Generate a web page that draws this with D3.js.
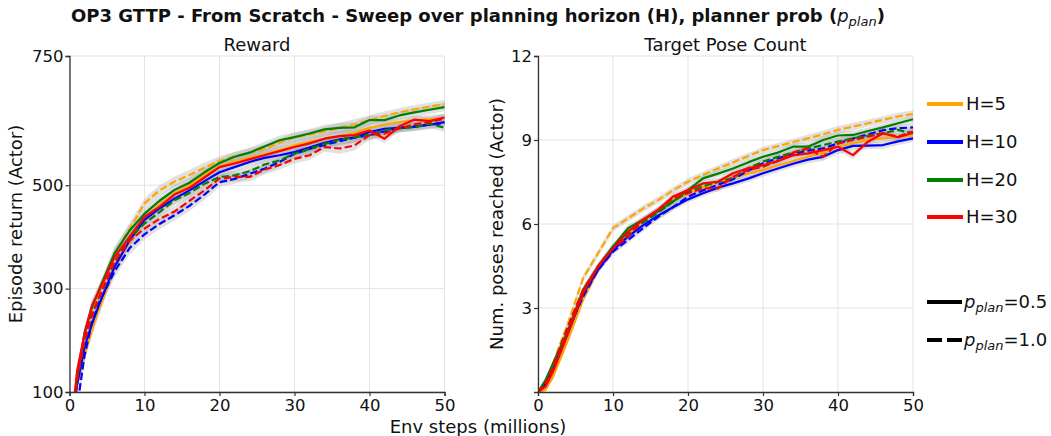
<!DOCTYPE html>
<html><head><meta charset="utf-8">
<script src="https://cdn.jsdelivr.net/npm/d3@7/dist/d3.min.js"></script>
<style>body{margin:0;background:#fff} text{font-family:"DejaVu Sans",sans-serif;fill:#111}</style>
</head><body><svg id="c" width="1051" height="436"></svg>
<script>
// ---------- DATA ----------
const steps = [0,1,2,3,4,6,8,10,12,14,16,18,20,22,24,26,28,30,32,34,36,38,40,42,44,46,48,50];
const horizons = ["H=5","H=10","H=20","H=30"];
const planProbs = ["0.5","1.0"];
const xTicks = [0,10,20,30,40,50];
const rewardTicks = [100,300,500,750];
const poseTicks = [3,6,9,12];

// Reward (Episode return)
const rewardH5p05  = [0,115,170,220,262,340,392,437,462,484,500,520,536,546,553,560,568,577,584,590,595,601,611,617,622,626,628,630];
const rewardH5p10  = [0,118,200,245,292,368,415,465,490,507,520,534,547,556,563,570,582,593,598,604,611,618,626,634,641,647,652,657];
const rewardH10p05 = [0,112,187,232,271,342,393,433,455,474,490,508,525,535,545,553,558,564,573,582,589,592,603,609,611,613,617,622];
const rewardH10p10 = [-60,70,170,235,275,333,378,405,425,442,460,482,506,512,522,532,545,561,570,578,585,592,597,604,611,614,617,620];
const rewardH20p05 = [0,125,215,264,300,368,412,445,470,491,505,525,543,555,563,575,587,593,600,608,611,612,626,626,635,641,646,651];
const rewardH20p10 = [0,125,200,252,284,351,398,426,448,471,485,503,516,519,527,540,548,561,570,580,588,593,597,606,610,613,619,611];
const rewardH30p05 = [0,140,212,268,297,361,400,439,458,482,495,515,535,542,550,558,566,574,581,590,595,597,606,590,614,627,624,631];
const rewardH30p10 = [0,125,200,248,285,351,393,416,435,449,470,490,513,516,516,530,539,551,558,574,571,577,597,600,610,618,622,629];
const rewardSpread = [0,10,12,12,12,12,12,10,10,10,10,10,9,9,9,9,9,9,9,9,10,10,9,9,8,8,8,8];

// Target pose count
const poseH5p05  = [0,0.07,0.55,1.2,1.86,3.29,4.36,5.07,5.67,6.1,6.5,6.85,7.1,7.3,7.5,7.65,7.8,7.93,8.1,8.25,8.4,8.55,8.76,8.88,9.0,9.06,9.1,9.18];
const poseH5p10  = [0,0.31,1.0,1.75,2.45,4.06,4.95,5.85,6.2,6.55,6.85,7.2,7.51,7.75,7.98,8.2,8.42,8.64,8.78,8.92,9.06,9.2,9.36,9.48,9.6,9.72,9.84,9.93];
const poseH10p05 = [0,0.3,0.8,1.45,2.1,3.5,4.36,5.07,5.55,5.95,6.3,6.6,6.88,7.1,7.3,7.45,7.62,7.81,7.98,8.15,8.3,8.4,8.64,8.79,8.8,8.82,8.95,9.06];
const poseH10p10 = [0,0.31,0.85,1.5,2.2,3.4,4.36,5.01,5.43,5.85,6.25,6.6,6.98,7.2,7.4,7.6,7.9,8.17,8.35,8.5,8.62,8.7,8.88,9.05,9.2,9.35,9.42,9.45];
const poseH20p05 = [0,0.43,1.02,1.6,2.2,3.64,4.48,5.19,5.85,6.15,6.45,6.8,7.21,7.63,7.8,7.98,8.2,8.4,8.55,8.76,8.76,9.0,9.16,9.18,9.32,9.45,9.6,9.74];
const poseH20p10 = [0,0.31,0.96,1.65,2.33,3.64,4.48,5.19,5.67,6.05,6.4,6.8,7.15,7.35,7.5,7.65,7.99,8.23,8.4,8.55,8.7,8.82,8.94,9.06,9.15,9.24,9.36,9.24];
const poseH30p05 = [0,0.19,0.73,1.4,2.1,3.52,4.48,5.13,5.73,6.15,6.5,6.98,7.21,7.45,7.51,7.81,7.99,8.1,8.25,8.45,8.52,8.64,8.76,8.46,8.94,9.24,9.1,9.26];
const poseH30p10 = [0,0.31,0.9,1.6,2.33,3.64,4.48,5.13,5.55,6.14,6.5,6.92,7.1,7.27,7.27,7.69,7.93,8.05,8.25,8.55,8.7,8.4,8.88,9.0,9.12,9.24,9.12,9.3];
const poseSpread = [0,0.05,0.1,0.12,0.12,0.12,0.12,0.12,0.12,0.12,0.12,0.12,0.12,0.12,0.12,0.12,0.12,0.12,0.12,0.12,0.14,0.14,0.14,0.14,0.13,0.13,0.13,0.13];

// ---------- STYLE ----------
const colorOf = {"H=5":"#ffa500","H=10":"#0000ff","H=20":"#008000","H=30":"#ff0000"};
const dashOf = {"0.5":null,"1.0":"7.4,3.2"};

const rewardSeries = [
  ["H=5","0.5",rewardH5p05],["H=5","1.0",rewardH5p10],
  ["H=10","0.5",rewardH10p05],["H=10","1.0",rewardH10p10],
  ["H=20","0.5",rewardH20p05],["H=20","1.0",rewardH20p10],
  ["H=30","0.5",rewardH30p05],["H=30","1.0",rewardH30p10]];
const poseSeries = [
  ["H=5","0.5",poseH5p05],["H=5","1.0",poseH5p10],
  ["H=10","0.5",poseH10p05],["H=10","1.0",poseH10p10],
  ["H=20","0.5",poseH20p05],["H=20","1.0",poseH20p10],
  ["H=30","0.5",poseH30p05],["H=30","1.0",poseH30p10]];

const svg = d3.select("#c");
const plotTop = 56, plotBottom = 392;
const labelSize = 18;

function panel(id, x0, x1, yDomain, yTicks, series, spread, title, ylabel, ylabelX) {
  const x = d3.scaleLinear().domain([0,50]).range([x0,x1]);
  const y = d3.scaleLinear().domain(yDomain).range([plotBottom,plotTop]);
  const g = svg.append("g");
  g.selectAll(".gx").data(xTicks).join("line")
    .attr("x1",d=>x(d)).attr("x2",d=>x(d)).attr("y1",plotTop).attr("y2",plotBottom)
    .attr("stroke","#e3e3e3").attr("stroke-width",1);
  g.selectAll(".gy").data(yTicks).join("line")
    .attr("x1",x0).attr("x2",x1).attr("y1",d=>y(d)).attr("y2",d=>y(d))
    .attr("stroke","#e3e3e3").attr("stroke-width",1);
  svg.append("clipPath").attr("id",id).append("rect")
    .attr("x",x0).attr("y",plotTop-3).attr("width",x1-x0+3).attr("height",plotBottom-plotTop+3);
  const pg = g.append("g").attr("clip-path",`url(#${id})`);
  const area = d3.area().x((d,i)=>x(steps[i])).y0((d,i)=>y(d-spread[i])).y1((d,i)=>y(d+spread[i]));
  series.forEach(s=>{
    pg.append("path").datum(s[2]).attr("d",area)
      .attr("fill","#a8a8a8").attr("fill-opacity",0.35);
  });
  const line = d3.line().x((d,i)=>x(steps[i])).y(d=>y(d));
  series.forEach(s=>{
    pg.append("path").datum(s[2]).attr("d",line)
      .attr("fill","none").attr("stroke",colorOf[s[0]]).attr("stroke-width",2.2)
      .attr("stroke-dasharray",dashOf[s[1]]).attr("stroke-linejoin","round");
  });
  const ax = g.append("g").attr("transform",`translate(0,${plotBottom})`)
    .call(d3.axisBottom(x).tickValues(xTicks).tickSize(4).tickPadding(3));
  const ay = g.append("g").attr("transform",`translate(${x0},0)`)
    .call(d3.axisLeft(y).tickValues(yTicks).tickSize(4).tickPadding(2));
  [ax,ay].forEach(a=>{
    a.select(".domain").attr("stroke","#333").attr("stroke-width",1.3);
    a.selectAll(".tick line").attr("stroke","#333").attr("stroke-width",1.2);
    a.selectAll(".tick text").attr("font-size",16.5).attr("fill","#111")
      .style("font-family","DejaVu Sans");
  });
  svg.append("text").attr("x",(x0+x1)/2).attr("y",51).attr("text-anchor","middle")
    .attr("font-size",labelSize).text(title);
  svg.append("text").attr("transform",`translate(${ylabelX},${(plotTop+plotBottom)/2}) rotate(-90)`)
    .attr("text-anchor","middle").attr("font-size",labelSize).text(ylabel);
}

panel("clipA",69.5,444.5,[100,750],rewardTicks,rewardSeries,rewardSpread,"Reward","Episode return (Actor)",22);
panel("clipB",538,913,[0,12],poseTicks,poseSeries,poseSpread,"Target Pose Count","Num. poses reached (Actor)",503);

const t = svg.append("text").attr("x",478).attr("y",22).attr("text-anchor","middle")
  .attr("font-size",18).attr("font-weight","bold");
t.append("tspan").text("OP3 GTTP - From Scratch - Sweep over planning horizon (H), planner prob (");
t.append("tspan").attr("font-style","italic").attr("font-weight","normal").text("p");
t.append("tspan").attr("font-style","italic").attr("font-weight","normal").attr("font-size",13).attr("dy",4).text("plan");
t.append("tspan").attr("dy",-4).text(")");

svg.append("text").attr("x",478).attr("y",433).attr("text-anchor","middle")
  .attr("font-size",labelSize).text("Env steps (millions)");

const legY = [104,142,180,217];
horizons.forEach((h,i)=>{
  svg.append("line").attr("x1",927).attr("x2",963).attr("y1",legY[i]).attr("y2",legY[i])
    .attr("stroke",colorOf[h]).attr("stroke-width",4);
  svg.append("text").attr("x",966).attr("y",legY[i]).attr("dy","0.36em")
    .attr("font-size",labelSize).text(h);
});
const ppY = [302,340];
planProbs.forEach((p,i)=>{
  svg.append("line").attr("x1",927).attr("x2",962).attr("y1",ppY[i]).attr("y2",ppY[i])
    .attr("stroke","#000").attr("stroke-width",4)
    .attr("stroke-dasharray",p==="1.0"?"15,5":null);
  const tx = svg.append("text").attr("x",964).attr("y",ppY[i]).attr("dy","0.36em").attr("font-size",labelSize);
  tx.append("tspan").attr("font-style","italic").text("p");
  tx.append("tspan").attr("font-style","italic").attr("font-size",13).attr("dy",4).text("plan");
  tx.append("tspan").attr("dy",-4).text("="+p);
});
</script></body></html>
